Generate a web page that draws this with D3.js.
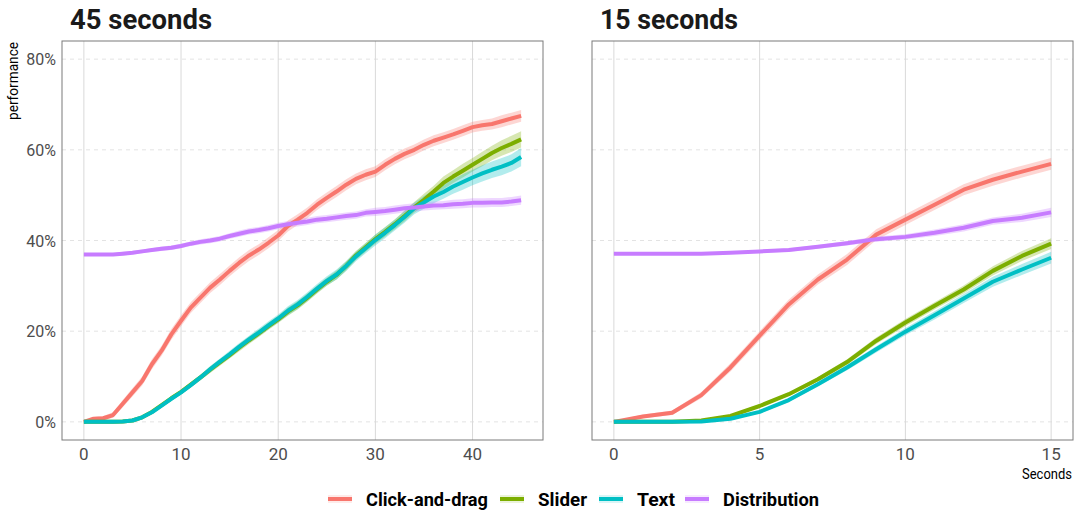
<!DOCTYPE html>
<html>
<head>
<meta charset="utf-8">
<script src="https://cdn.jsdelivr.net/npm/d3@7"></script>
<style>
body { margin: 0; background: #fff; }
text { font-family: Roboto, "Noto Sans", sans-serif; }
</style>
</head>
<body>
<div id="viz"></div>
<script>
//data
var seriesNames = ["Click-and-drag", "Slider", "Text", "Distribution"];
var seriesColors = ["#F8766D", "#7CAE00", "#00BFC4", "#C77CFF"];

var secondsLong = [0,1,2,3,4,5,6,7,8,9,10,11,12,13,14,15,16,17,18,19,20,21,22,23,24,25,26,27,28,29,30,31,32,33,34,35,36,37,38,39,40,41,42,43,44,45];
var secondsShort = [0,1,2,3,4,5,6,7,8,9,10,11,12,13,14,15];

// performance in %, 45 second condition
var clickLong = [0,0.7,0.8,1.5,4,6.5,9,12.7,15.7,19.3,22.3,25.2,27.4,29.6,31.4,33.3,35.1,36.7,38,39.5,41.1,43.2,44.6,46.1,47.9,49.4,50.8,52.3,53.6,54.5,55.2,56.7,58,59.1,60,61.1,62,62.7,63.4,64.2,65,65.4,65.7,66.3,66.9,67.5];
var sliderLong = [0,0,0,0,0.1,0.3,1,2.2,3.7,5.2,6.6,8.2,9.8,11.5,13.1,14.7,16.4,18,19.5,21.1,22.6,24.3,25.7,27.4,29.2,30.9,32.4,34.4,36.7,38.5,40.3,41.9,43.6,45.4,47.3,49,50.8,52.7,54.1,55.4,56.7,58,59.3,60.4,61.3,62.3];
var textLong = [0,0,0,0,0.1,0.3,1,2.1,3.6,5.1,6.5,8.1,9.8,11.6,13.3,14.9,16.6,18.2,19.7,21.3,22.8,24.5,25.9,27.6,29.4,31.1,32.5,34.4,36.5,38.3,40.1,41.7,43.4,45.2,47.1,48.4,49.7,50.7,51.9,52.9,53.9,54.8,55.6,56.3,57.1,58.4];
var distLong = [36.9,36.9,36.9,36.9,37.1,37.3,37.6,37.9,38.2,38.4,38.8,39.3,39.7,40,40.4,41,41.5,42,42.3,42.7,43.2,43.6,43.9,44.2,44.6,44.8,45.1,45.4,45.6,46.1,46.3,46.5,46.8,47.1,47.3,47.5,47.7,47.8,48,48.1,48.3,48.3,48.4,48.4,48.6,48.9];

// ribbon half widths in %, 45 second condition
var clickLongSe = [0.2,0.4,0.5,0.6,0.8,0.9,1,1.1,1.1,1.2,1.2,1.2,1.2,1.2,1.2,1.2,1.2,1.2,1.2,1.2,1.2,1.2,1.2,1.2,1.2,1.2,1.2,1.2,1.2,1.2,1.2,1.2,1.2,1.2,1.2,1.2,1.2,1.2,1.2,1.2,1.2,1.2,1.2,1.3,1.3,1.3];
var sliderLongSe = [0,0,0,0,0.1,0.1,0.2,0.3,0.4,0.5,0.5,0.6,0.6,0.7,0.7,0.7,0.8,0.8,0.8,0.8,0.8,0.9,0.9,0.9,0.9,0.9,1,1,1,1,1,1.1,1.1,1.2,1.2,1.3,1.3,1.4,1.4,1.5,1.5,1.6,1.6,1.7,1.8,1.8];
var textLongSe = [0,0,0,0,0.1,0.1,0.2,0.3,0.4,0.5,0.5,0.6,0.6,0.7,0.7,0.8,0.8,0.8,0.9,0.9,0.9,1,1,1,1,1,1.1,1.1,1.1,1.1,1.2,1.2,1.2,1.3,1.3,1.4,1.5,1.5,1.6,1.7,1.7,1.8,1.8,1.9,1.9,2];
var distLongSe = [0.3,0.3,0.3,0.3,0.4,0.4,0.4,0.4,0.5,0.5,0.5,0.5,0.6,0.6,0.6,0.6,0.7,0.7,0.7,0.7,0.7,0.7,0.8,0.8,0.8,0.8,0.8,0.8,0.8,0.8,0.9,0.9,0.9,0.9,0.9,0.9,0.9,0.9,1,1,1,1,1,1,1,1];

// performance in %, 15 second condition
var clickShort = [0,1.2,2,5.9,12,19,25.9,31.4,35.8,41.3,44.6,47.9,51.2,53.4,55.2,56.9];
var sliderShort = [0,0,0,0.3,1.3,3.5,6.1,9.4,13.2,17.9,21.9,25.6,29.2,33.3,36.6,39.3];
var textShort = [0,0,0,0.1,0.7,2.2,4.8,8.3,12,16,19.9,23.5,27.2,30.9,33.6,36.2];
var distShort = [37.1,37.1,37.1,37.1,37.3,37.6,37.9,38.6,39.4,40.3,40.8,41.7,42.8,44.3,45,46.2];

// ribbon half widths in %, 15 second condition
var clickShortSe = [0.2,0.4,0.5,0.7,0.9,1,1.1,1.1,1.2,1.2,1.2,1.2,1.2,1.3,1.3,1.3];
var sliderShortSe = [0,0,0,0.1,0.2,0.3,0.4,0.5,0.6,0.7,0.8,0.8,0.9,1,1.1,1.2];
var textShortSe = [0,0,0,0.1,0.2,0.3,0.4,0.5,0.6,0.7,0.8,0.9,1,1.1,1.2,1.3];
var distShortSe = [0.2,0.2,0.2,0.2,0.3,0.3,0.4,0.4,0.5,0.6,0.6,0.7,0.8,0.8,0.9,1];

var yTicks = [0, 20, 40, 60, 80];
var xTicksLong = [0, 10, 20, 30, 40];
var xTicksShort = [0, 5, 10, 15];

var panels = [
	{ title: "45 seconds", x: secondsLong, ys: [clickLong, sliderLong, textLong, distLong],
	  se: [clickLongSe, sliderLongSe, textLongSe, distLongSe], ticks: xTicksLong, left: 62, right: 543, yAxis: true },
	{ title: "15 seconds", x: secondsShort, ys: [clickShort, sliderShort, textShort, distShort],
	  se: [clickShortSe, sliderShortSe, textShortSe, distShortSe], ticks: xTicksShort, left: 592, right: 1073, yAxis: false }
];

var W = 1080, H = 513, plotTop = 41, plotBottom = 440;

var svg = d3.select("#viz").append("svg").attr("width", W).attr("height", H);

var y = d3.scaleLinear().domain([-4, 84]).range([plotBottom, plotTop]);

panels.forEach(function(p) {
	var xmax = d3.max(p.x);
	var pad = xmax * 0.05;
	var x = d3.scaleLinear().domain([-pad, xmax + pad]).range([p.left, p.right]);
	var g = svg.append("g");

	//grid
	g.selectAll(".hgrid").data(yTicks).enter().append("line")
		.attr("x1", p.left).attr("x2", p.right)
		.attr("y1", function(d) { return y(d); }).attr("y2", function(d) { return y(d); })
		.attr("stroke", "#e3e3e3").attr("stroke-width", 1).attr("stroke-dasharray", "4,4");
	g.selectAll(".vgrid").data(p.ticks).enter().append("line")
		.attr("x1", function(d) { return x(d); }).attr("x2", function(d) { return x(d); })
		.attr("y1", plotTop).attr("y2", plotBottom)
		.attr("stroke", "#d9d9d9").attr("stroke-width", 1);

	//ribbons, then lines
	var area = d3.area()
		.x(function(d) { return x(d.x); })
		.y0(function(d) { return y(d.v - d.se); })
		.y1(function(d) { return y(d.v + d.se); });
	var line = d3.line()
		.x(function(d) { return x(d.x); })
		.y(function(d) { return y(d.v); });

	var series = p.ys.map(function(vals, i) {
		return vals.map(function(v, j) { return { x: p.x[j], v: v, se: p.se[i][j] }; });
	});
	g.selectAll(".ribbon").data(series).enter().append("path")
		.attr("d", area)
		.attr("fill", function(d, i) { return seriesColors[i]; })
		.attr("fill-opacity", 0.3);
	g.selectAll(".line").data(series).enter().append("path")
		.attr("d", line)
		.attr("fill", "none")
		.attr("stroke", function(d, i) { return seriesColors[i]; })
		.attr("stroke-width", 4)
		.attr("stroke-linejoin", "round");

	//border
	g.append("rect")
		.attr("x", p.left).attr("y", plotTop)
		.attr("width", p.right - p.left).attr("height", plotBottom - plotTop)
		.attr("fill", "none").attr("stroke", "#7a7a7a").attr("stroke-width", 1);

	//x axis labels
	g.selectAll(".xlab").data(p.ticks).enter().append("text")
		.attr("x", function(d) { return x(d); })
		.attr("y", 460)
		.attr("text-anchor", "middle")
		.attr("font-size", 17)
		.attr("fill", "#4d4d4d")
		.text(function(d) { return d; });

	if (p.yAxis) {
		g.selectAll(".ylab").data(yTicks).enter().append("text")
			.attr("x", 56)
			.attr("y", function(d) { return y(d) + 6; })
			.attr("text-anchor", "end")
			.attr("font-size", 16)
			.attr("fill", "#4d4d4d")
			.text(function(d) { return d + "%"; });
	}

	//title
	g.append("text")
		.attr("x", p.left + 8).attr("y", 29)
		.attr("font-size", 28).attr("font-weight", "bold").attr("fill", "#1a1a1a")
		.attr("textLength", p.title == "45 seconds" ? 142 : 138)
		.attr("lengthAdjust", "spacingAndGlyphs")
		.text(p.title);
});

//axis titles
svg.append("text")
	.attr("transform", "translate(18," + (plotTop + 1) + ") rotate(-90)")
	.attr("text-anchor", "end")
	.attr("font-size", 15)
	.attr("textLength", 78)
	.attr("lengthAdjust", "spacingAndGlyphs")
	.text("performance");
svg.append("text")
	.attr("x", 1072).attr("y", 479)
	.attr("text-anchor", "end")
	.attr("font-size", 15)
	.attr("textLength", 50)
	.attr("lengthAdjust", "spacingAndGlyphs")
	.text("Seconds");

//legend
var legendKeyX = [328, 500, 599, 685];
var legendTextW = [122, 49, 38, 96];
var legend = svg.append("g");
seriesNames.forEach(function(name, i) {
	var kx = legendKeyX[i];
	legend.append("rect")
		.attr("x", kx).attr("y", 495).attr("width", 24).attr("height", 8)
		.attr("fill", seriesColors[i]).attr("fill-opacity", 0.15);
	legend.append("line")
		.attr("x1", kx).attr("x2", kx + 24)
		.attr("y1", 499).attr("y2", 499)
		.attr("stroke", seriesColors[i]).attr("stroke-width", 4);
	legend.append("text")
		.attr("x", kx + 38).attr("y", 506)
		.attr("font-size", 19).attr("font-weight", "bold").attr("fill", "#000")
		.attr("textLength", legendTextW[i])
		.attr("lengthAdjust", "spacingAndGlyphs")
		.text(name);
});
</script>
</body>
</html>
